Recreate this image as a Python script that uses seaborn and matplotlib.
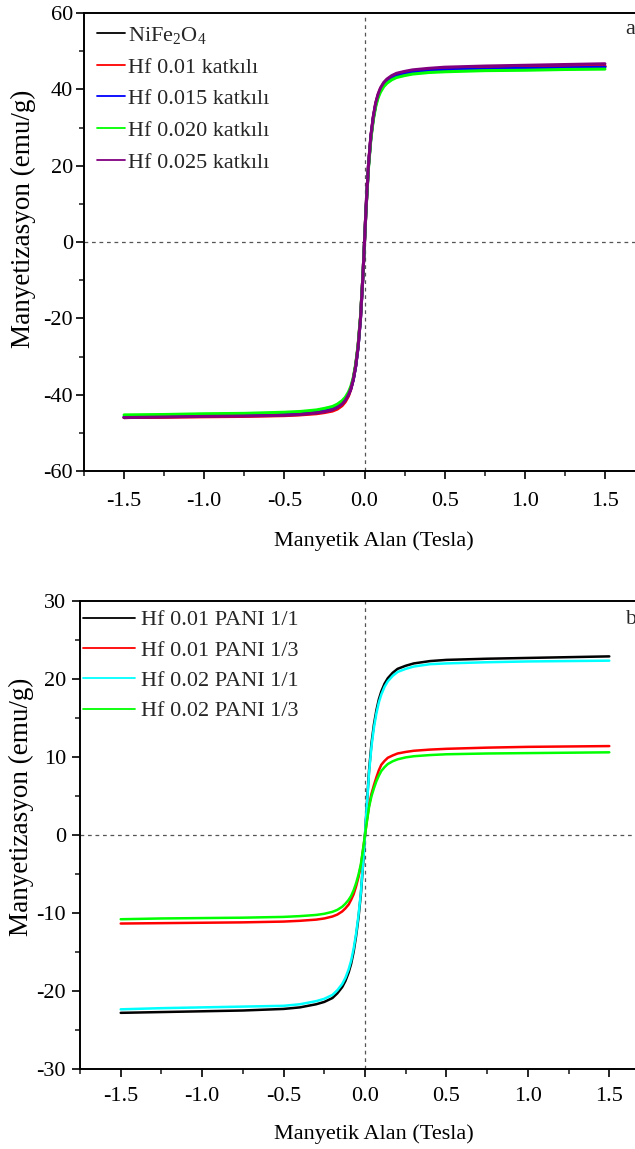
import numpy as np
import pandas as pd
import matplotlib
matplotlib.use("Agg")
import matplotlib.pyplot as plt
import seaborn as sns
from matplotlib.ticker import MultipleLocator, FormatStrFormatter

# Applied field (Tesla) at which magnetization is tabulated
field_t = [-1.5, -1.25, -1.0, -0.75, -0.5, -0.4, -0.3, -0.25, -0.2, -0.17, -0.14, -0.12,
           -0.1, -0.085, -0.07, -0.055, -0.04, -0.025, -0.01, 0.0,
           0.01, 0.025, 0.04, 0.055, 0.07, 0.085, 0.1, 0.12, 0.14, 0.17, 0.2, 0.25,
           0.3, 0.4, 0.5, 0.75, 1.0, 1.25, 1.5]

# Panel a: Hf-doped NiFe2O4 (emu/g)
m_nife2o4 = [-46.0, -45.8, -45.6, -45.45, -45.2, -45.0, -44.6, -44.2, -43.7, -43.1, -42.2, -41.3,
             -39.9, -38.3, -36.0, -32.5, -27.5, -20.0, -9.0, 0.0,
             9.0, 20.0, 27.5, 32.5, 36.0, 38.3, 39.9, 41.3, 42.2, 43.1, 43.7, 44.2,
             44.6, 45.0, 45.2, 45.45, 45.6, 45.8, 46.0]
m_hf0010 = [-46.0, -45.9, -45.8, -45.7, -45.5, -45.3, -45.0, -44.7, -44.3, -43.8, -42.9, -41.9,
            -40.4, -38.6, -36.0, -32.4, -27.2, -19.8, -9.0, 0.0,
            9.2, 20.3, 27.8, 32.8, 36.3, 38.6, 40.2, 41.6, 42.5, 43.4, 44.0, 44.5,
            44.8, 45.2, 45.4, 45.6, 45.8, 45.9, 46.1]
m_hf0015 = [-45.8, -45.6, -45.5, -45.3, -45.1, -44.9, -44.5, -44.1, -43.6, -43.0, -42.2, -41.3,
            -40.0, -38.4, -36.1, -32.6, -27.6, -20.1, -9.1, 0.0,
            9.1, 20.1, 27.6, 32.6, 36.1, 38.4, 40.0, 41.3, 42.2, 43.0, 43.6, 44.1,
            44.5, 44.9, 45.1, 45.3, 45.5, 45.6, 45.8]
m_hf0020 = [-45.3, -45.2, -45.0, -44.9, -44.6, -44.4, -44.0, -43.6, -43.1, -42.5, -41.6, -40.7,
            -39.3, -37.8, -35.5, -32.0, -27.0, -19.5, -8.8, 0.0,
            8.8, 19.5, 27.0, 32.0, 35.5, 37.8, 39.3, 40.7, 41.6, 42.5, 43.1, 43.6,
            44.0, 44.4, 44.6, 44.9, 45.0, 45.2, 45.3]
m_hf0025 = [-46.0, -45.85, -45.7, -45.6, -45.4, -45.2, -44.8, -44.5, -44.0, -43.4, -42.5, -41.5,
            -40.0, -38.4, -36.0, -32.5, -27.5, -20.0, -9.0, 0.0,
            9.2, 20.3, 27.9, 32.9, 36.5, 38.8, 40.4, 41.8, 42.7, 43.6, 44.2, 44.7,
            45.1, 45.5, 45.8, 46.1, 46.3, 46.5, 46.7]

# Panel b: Hf-doped ferrite / PANI composites (emu/g)
m_hf001_pani11 = [-22.8, -22.7, -22.6, -22.5, -22.3, -22.1, -21.7, -21.4, -20.9, -20.3, -19.5, -18.7,
                  -17.6, -16.5, -15.0, -13.0, -10.6, -7.5, -3.2, 0.0,
                  3.5, 8.3, 11.8, 14.2, 16.0, 17.4, 18.4, 19.4, 20.1, 20.8, 21.3, 21.7,
                  22.0, 22.3, 22.45, 22.6, 22.7, 22.8, 22.9]
m_hf001_pani13 = [-11.35, -11.3, -11.25, -11.2, -11.1, -11.0, -10.85, -10.7, -10.45, -10.2, -9.8, -9.4,
                  -8.9, -8.3, -7.6, -6.6, -5.4, -3.9, -1.6, 0.0,
                  1.6, 3.8, 5.3, 6.4, 7.4, 8.3, 9.0, 9.5, 9.9, 10.2, 10.45, 10.65,
                  10.8, 10.95, 11.05, 11.2, 11.3, 11.35, 11.4]
m_hf002_pani11 = [-22.35, -22.2, -22.1, -22.0, -21.9, -21.7, -21.3, -21.0, -20.5, -19.9, -19.1, -18.3,
                  -17.2, -16.1, -14.6, -12.7, -10.3, -7.3, -3.1, 0.0,
                  3.4, 8.0, 11.4, 13.8, 15.6, 17.0, 18.0, 19.0, 19.7, 20.4, 20.9, 21.3,
                  21.6, 21.9, 22.0, 22.15, 22.25, 22.3, 22.35]
m_hf002_pani13 = [-10.8, -10.7, -10.65, -10.6, -10.5, -10.4, -10.25, -10.1, -9.85, -9.6, -9.2, -8.8,
                  -8.3, -7.8, -7.1, -6.2, -5.1, -3.7, -1.5, 0.0,
                  1.5, 3.6, 5.0, 6.0, 6.9, 7.6, 8.2, 8.7, 9.1, 9.45, 9.7, 9.95,
                  10.1, 10.25, 10.35, 10.45, 10.5, 10.55, 10.6]

labels_a = [r"NiFe$_2$O$_4$", "Hf 0.01 katkılı", "Hf 0.015 katkılı",
            "Hf 0.020 katkılı", "Hf 0.025 katkılı"]
series_a = [m_nife2o4, m_hf0010, m_hf0015, m_hf0020, m_hf0025]
colors_a = ["#000000", "#ff0000", "#0000ff", "#00ff00", "#800080"]

labels_b = ["Hf 0.01 PANI 1/1", "Hf 0.01 PANI 1/3", "Hf 0.02 PANI 1/1", "Hf 0.02 PANI 1/3"]
series_b = [m_hf001_pani11, m_hf001_pani13, m_hf002_pani11, m_hf002_pani13]
colors_b = ["#000000", "#ff0000", "#00ffff", "#00ff00"]

x_ticks = [-1.5, -1.0, -0.5, 0.0, 0.5, 1.0, 1.5]

sns.set_theme(style="ticks")
plt.rcParams["font.family"] = ["Liberation Serif", "DejaVu Serif"]
plt.rcParams["mathtext.fontset"] = "custom"
plt.rcParams["mathtext.rm"] = "Liberation Serif"
plt.rcParams["mathtext.it"] = "Liberation Serif"
plt.rcParams["mathtext.default"] = "regular"
plt.rcParams["axes.unicode_minus"] = False


def long_frame(labels, series):
    frames = []
    for lab, vals in zip(labels, series):
        frames.append(pd.DataFrame({"H": field_t, "M": vals, "sample": lab}))
    return pd.concat(frames, ignore_index=True)


def style_axes(ax, ymin, ymax, ymajor, yminor, xpad, ypad):
    ax.set_xlim(-1.75, 1.75)
    ax.set_ylim(ymin, ymax)
    ax.xaxis.set_minor_locator(MultipleLocator(0.25))
    ax.set_xticks(x_ticks)
    ax.xaxis.set_major_formatter(FormatStrFormatter("%.1f"))
    ax.yaxis.set_major_locator(MultipleLocator(ymajor))
    ax.yaxis.set_minor_locator(MultipleLocator(yminor))
    for side in ["left", "bottom", "top", "right"]:
        ax.spines[side].set_linewidth(1.4)
        ax.spines[side].set_color("black")
    ax.tick_params(axis="both", which="major", direction="out", length=6,
                   width=1.2, labelsize=16, colors="black")
    ax.tick_params(axis="both", which="minor", direction="out", length=3.5,
                   width=1.2)
    ax.tick_params(axis="x", which="major", pad=xpad)
    ax.tick_params(axis="y", which="major", pad=ypad)
    ax.tick_params(top=False, right=False, which="both")
    ax.axhline(0, color="#555555", lw=0.9, ls=(0, (3, 3)), zorder=1)
    ax.axvline(0, color="#555555", lw=0.9, ls=(0, (3, 3)), zorder=1)


fig = plt.figure(figsize=(6.35, 11.49), dpi=100)
W, H = 635.0, 1149.0

# panel a: left 84px, right 645px, top 13px, bottom 471px
ax_a = fig.add_axes([84 / W, 1 - 471 / H, (645 - 84) / W, (471 - 13) / H])
# panel b: left 80px, right 650px, top 601px, bottom 1069px
ax_b = fig.add_axes([80 / W, 1 - 1069 / H, (650 - 80) / W, (1069 - 601) / H])

df_a = long_frame(labels_a, series_a)
sns.lineplot(data=df_a, x="H", y="M", hue="sample", hue_order=labels_a,
             palette=colors_a, sort=False, estimator=None, linewidth=2.2,
             ax=ax_a, legend=False, zorder=3)
style_axes(ax_a, -60, 60, 20, 10, 9, 2)

df_b = long_frame(labels_b, series_b)
sns.lineplot(data=df_b, x="H", y="M", hue="sample", hue_order=labels_b,
             palette=colors_b, sort=False, estimator=None, linewidth=1.8,
             ax=ax_b, legend=False, zorder=3)
style_axes(ax_b, -30, 30, 10, 5, 7, 4)

for ax, labels, colors, hl, tp, ls, anchor in [
    (ax_a, labels_a, colors_a, 1.25, 0.15, 0.5, (0.023, 0.974)),
    (ax_b, labels_b, colors_b, 2.35, 0.25, 0.44, (0.005, 0.981)),
]:
    handles = [plt.Line2D([], [], color=c, lw=1.3) for c in colors]
    ax.legend(handles, labels, loc="upper left", bbox_to_anchor=anchor,
              frameon=False, fontsize=16, handlelength=hl,
              handletextpad=tp, labelspacing=ls, borderpad=0,
              borderaxespad=0)

ax_a.set_xlabel("Manyetik Alan (Tesla)", fontsize=16, color="black")
ax_a.set_ylabel("Manyetizasyon (emu/g)", fontsize=19.5, color="black")
ax_a.xaxis.set_label_coords((374 - 84) / 561, (471 - 531) / 458)
ax_a.yaxis.set_label_coords((36 - 84) / 561, (471 - 219) / 458)

ax_b.set_xlabel("Manyetik Alan (Tesla)", fontsize=16, color="black")
ax_b.set_ylabel("Manyetizasyon (emu/g)", fontsize=19.5, color="black")
ax_b.xaxis.set_label_coords((374 - 80) / 570, (1069 - 1124) / 468)
ax_b.yaxis.set_label_coords((34 - 80) / 570, (1069 - 807) / 468)

fig.text(625 / W, 1 - 29 / H, "a", fontsize=16, ha="left", va="center")
fig.text(626 / W, 1 - 619 / H, "b", fontsize=16, ha="left", va="center")

fig.savefig("out.png", dpi=100)
